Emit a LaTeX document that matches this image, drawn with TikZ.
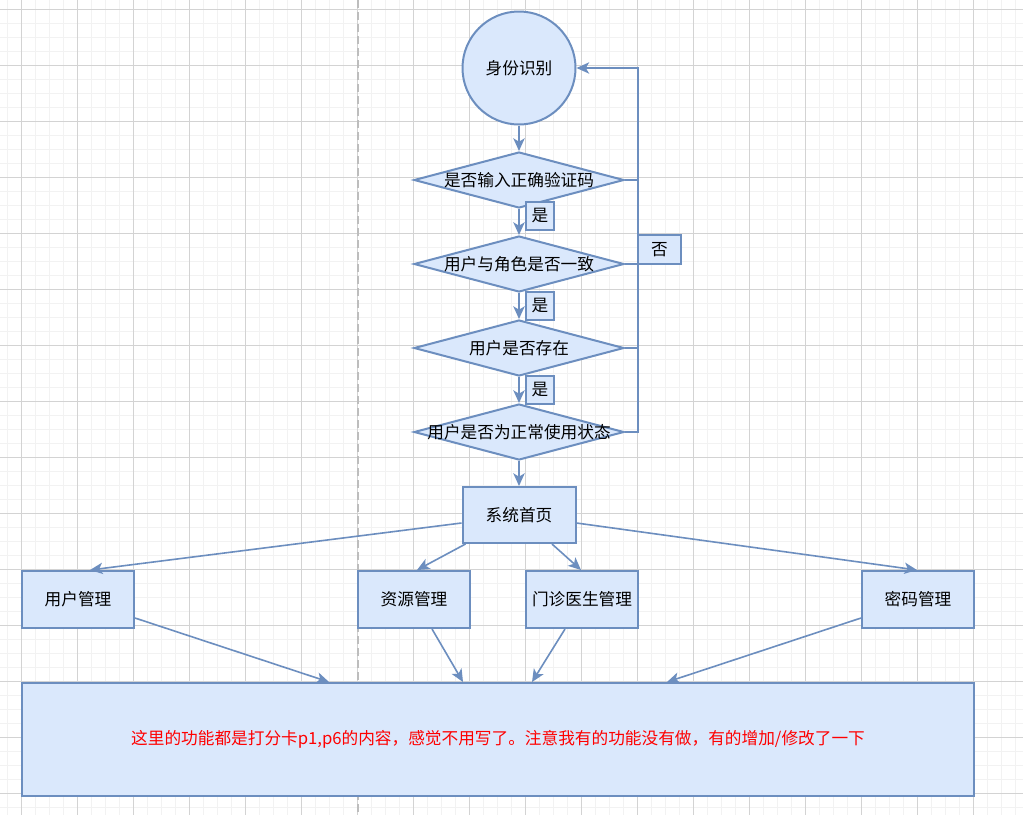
\documentclass[tikz,border=0pt]{standalone}
\usepackage{fontspec}
\setmainfont{Noto Sans CJK SC}
\usetikzlibrary{shapes.geometric,arrows.meta,calc}
\definecolor{fillb}{HTML}{DAE8FC}
\definecolor{strokeb}{HTML}{6C8EBF}
\definecolor{gridmin}{HTML}{F2F2F2}
\definecolor{gridmaj}{HTML}{D3D3D3}
\definecolor{dashg}{HTML}{BDBDBD}
\begin{document}
\begin{tikzpicture}[x=0.75pt,y=-0.75pt,
  every node/.style={font=\fontsize{12.5pt}{15pt}\selectfont, text=black},
  box/.style={draw=strokeb, fill=fillb, line width=1.5pt, inner sep=0pt},
  rbox/.style={box, rectangle, minimum width=84pt, minimum height=42.75pt},
  dia/.style={box, diamond, minimum width=157.5pt, minimum height=42pt},
  circ/.style={box, circle, minimum size=84.75pt},
  lbl/.style={box, rectangle, minimum width=21pt, minimum height=21pt},
  edge/.style={draw=strokeb, line width=1.2pt},
  arr/.style={edge, -{Stealth[length=9.5pt,width=8.5pt,inset=2.5pt]}},
]
\useasboundingbox (0,0) rectangle (1023,815);
\fill[white] (0,0) rectangle (1023,815);
% grid
\foreach \x in {7.5,21.5,...,1023} \draw[gridmin, line width=1pt] (\x,0) -- (\x,815);
\foreach \y in {9.5,23.5,...,815} \draw[gridmin, line width=1pt] (0,\y) -- (1023,\y);
\foreach \x in {21.5,77.5,...,1023} \draw[gridmaj, line width=0.75pt] (\x,0) -- (\x,815);
\foreach \y in {9.5,65.5,...,815} \draw[gridmaj, line width=0.75pt] (0,\y) -- (1023,\y);
% dashed divider
\draw[dashg, line width=1.1pt, dash pattern=on 6pt off 3pt] (358,0) -- (358,815);

% nodes
\node[circ] (c) at (519,68) {身份识别};
\node[dia] (d1) at (519,180) {\makebox[0pt]{是否输入正确验证码}};
\node[dia] (d2) at (519,264) {\makebox[0pt]{用户与角色是否一致}};
\node[dia] (d3) at (519,348) {\makebox[0pt]{用户是否存在}};
\node[dia] (d4) at (519,432) {\makebox[0pt]{用户是否为正常使用状态}};
\node[rbox, minimum width=84.75pt, minimum height=42pt] (sys) at (519,515) {系统首页};
\node[rbox] (um) at (78,599.5) {用户管理};
\node[rbox] (rm) at (414,599.5) {资源管理};
\node[rbox] (dm) at (582,599.5) {门诊医生管理};
\node[rbox] (pm) at (918,599.5) {密码管理};
\node[box, rectangle, minimum width=714pt, minimum height=84.75pt, text=red] (bb) at (498,739.5) {这里的功能都是打分卡p1,p6的内容，感觉不用写了。注意我有的功能没有做，有的增加/修改了一下};

% vertical flow
\draw[arr] (c) -- (d1);
\draw[arr] (d1) -- (d2);
\draw[arr] (d2) -- (d3);
\draw[arr] (d3) -- (d4);
\draw[arr] (d4) -- (sys);

% feedback loop
\coordinate (rx) at (638,68);
\draw[edge] (d1.east) -- (d1.east -| rx);
\draw[edge] (d2.east) -- (d2.east -| rx);
\draw[edge] (d3.east) -- (d3.east -| rx);
\draw[arr] (d4.east) -- (d4.east -| rx) |- (c.east);

% system home to modules
\draw[arr] ($(sys.west)+(0,8)$) -- ($(um.north)+(12,0)$);
\draw[arr] ($(sys.south west)+(4,0)$) -- ($(rm.north)+(3,0)$);
\draw[arr] ($(sys.south)+(33,0)$) -- ($(dm.north)+(-1,0)$);
\draw[arr] ($(sys.east)+(0,8)$) -- ($(pm.north)+(-1,0)$);

% modules to bottom box
\draw[arr] ($(um.east)+(0,18.5)$) -- ($(bb.north west)+(308,0)$);
\draw[arr] ($(rm.south)+(18,0)$) -- ($(bb.north west)+(442,0)$);
\draw[arr] ($(dm.south)+(-17,0)$) -- ($(bb.north west)+(511,0)$);
\draw[arr] ($(pm.west)+(0,18.5)$) -- ($(bb.north west)+(646,0)$);

% edge labels
\node[lbl] (y1) at (540,216) {是};
\node[lbl] (y2) at (540,306) {是};
\node[lbl] (y3) at (540,390) {是};
\node[box, rectangle, minimum width=32.25pt, minimum height=21.75pt] (no) at (659.5,249.5) {否};
\end{tikzpicture}
\end{document}
